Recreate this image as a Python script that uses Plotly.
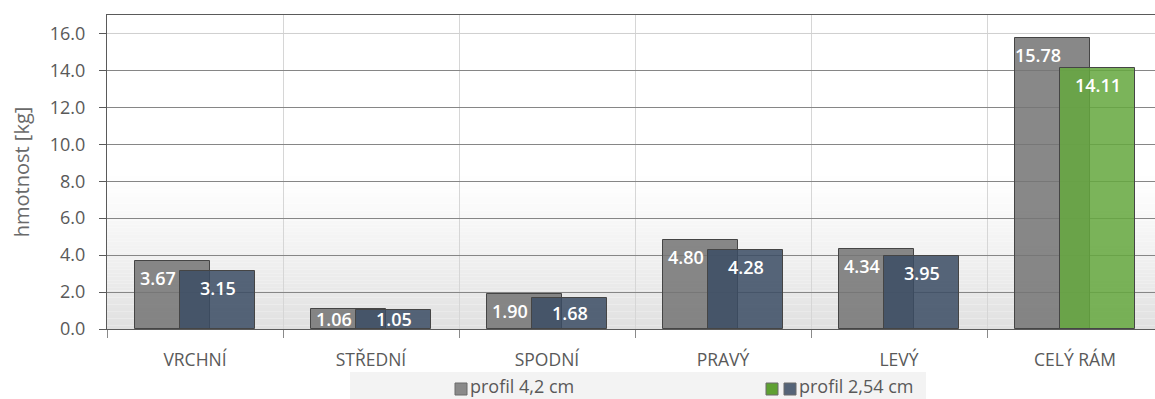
import plotly.graph_objects as go

# ---- data -------------------------------------------------------------
categories = ["VRCHNÍ", "STŘEDNÍ", "SPODNÍ", "PRAVÝ", "LEVÝ", "CELÝ RÁM"]
profil_42 = [3.67, 1.06, 1.90, 4.80, 4.34, 15.78]
profil_254 = [3.15, 1.05, 1.68, 4.28, 3.95, 14.11]
series_names = ["profil 4,2 cm", "profil 2,54 cm"]
y_ticks = [0, 2, 4, 6, 8, 10, 12, 14, 16]
y_title = "hmotnost [kg]"

# ---- geometry / style -------------------------------------------------
W, H = 1155, 399
ML, MR, MT, MB = 107, 0, 15, 70
PLOT_W = W - ML - MR
PLOT_H = H - MT - MB
Y_MAX = 17
CAT_PX = 176                      # pixel width of one category band
X_MIN = -0.5
X_MAX = X_MIN + PLOT_W / CAT_PX   # last band runs past the right edge
PX_PER_UNIT = PLOT_H / Y_MAX

BAR_W = 0.426
OFFSET = 0.128

FONT = "Open Sans"
TEXT_GREY = "#595959"
GRAY = "rgba(117,117,117,0.86)"
BLUE = "rgba(59,77,100,0.86)"
GREEN = "rgba(101,168,63,0.86)"
EDGE = "#454545"

idx = list(range(len(categories)))
x_a = [i - OFFSET for i in idx]
x_b = [i + OFFSET for i in idx]
colors_b = [BLUE] * (len(categories) - 1) + [GREEN]

fig = go.Figure()
fig.add_bar(x=x_a, y=profil_42, width=BAR_W, name=series_names[0],
            marker=dict(color=GRAY, line=dict(color=EDGE, width=1)),
            showlegend=False, hoverinfo="y")
fig.add_bar(x=x_b, y=profil_254, width=BAR_W, name=series_names[1],
            marker=dict(color=colors_b, line=dict(color=EDGE, width=1)),
            showlegend=False, hoverinfo="y")

# ---- value labels inside the bars ------------------------------------
LABEL_FONT = dict(family=FONT, size=18, color="white", weight=600)


def label_shift(v):
    return -min(17, v * PX_PER_UNIT / 2)


for i, v in zip(idx, profil_42):
    fig.add_annotation(x=i - BAR_W / 2, y=v, text=f"{v:.2f}", showarrow=False,
                       xanchor="center", yanchor="middle", yshift=label_shift(v),
                       font=LABEL_FONT)
for i, v in zip(idx, profil_254):
    fig.add_annotation(x=i + OFFSET, y=v, text=f"{v:.2f}", showarrow=False,
                       xanchor="center", yanchor="middle", yshift=label_shift(v),
                       font=LABEL_FONT)

# ---- background gradient in the lower part of the plot area ----------
GRAD_TOP = 8.5
N_BANDS = 45
for k in range(N_BANDS):
    y0 = GRAD_TOP * k / N_BANDS
    y1 = GRAD_TOP * (k + 1) / N_BANDS
    t = 1 - (k + 0.5) / N_BANDS
    c = int(round(255 - (255 - 224) * t ** 1.2))
    fig.add_shape(type="rect", xref="x", yref="y", x0=X_MIN, x1=X_MAX,
                  y0=y0, y1=y1, fillcolor=f"rgb({c},{c},{c})",
                  line_width=0, layer="below")

# topmost grid line is lighter
fig.add_shape(type="line", xref="x", yref="y", x0=X_MIN, x1=X_MAX,
              y0=y_ticks[-1], y1=y_ticks[-1], line=dict(color="#d2d2d2", width=1),
              layer="between")

# ---- legend (drawn as a strip below the axis) -------------------------
def px2x(p):
    return (p - ML) / PLOT_W


def px2y(p):
    return (H - MB - p) / PLOT_H


fig.add_shape(type="rect", xref="paper", yref="paper",
              x0=px2x(350), x1=px2x(926), y0=px2y(399), y1=px2y(372),
              fillcolor="#f3f3f3", line_width=0, layer="above")
legend_items = [
    (455, "#8a8a8a"),
    (766, "#5ea032"),
    (784, "#556478"),
]
for left, col in legend_items:
    fig.add_shape(type="rect", xref="paper", yref="paper",
                  x0=px2x(left), x1=px2x(left + 12), y0=px2y(395), y1=px2y(383),
                  fillcolor=col, line=dict(color="#6a6a6a", width=1), layer="above")
for left, name in [(469, series_names[0]), (798, series_names[1])]:
    fig.add_annotation(xref="paper", yref="paper", x=px2x(left), y=px2y(399),
                       text=name, showarrow=False, xanchor="left", yanchor="bottom",
                       borderpad=0,
                       font=dict(family=FONT, size=18, color=TEXT_GREY))

# ---- axes / layout ----------------------------------------------------
fig.update_layout(
    width=W, height=H,
    margin=dict(l=ML, r=MR, t=MT, b=MB, pad=0),
    paper_bgcolor="white", plot_bgcolor="white",
    barmode="overlay", bargap=0,
    font=dict(family=FONT, color=TEXT_GREY),
    showlegend=False,
)
fig.update_xaxes(
    range=[X_MIN, X_MAX], tickmode="array", tickvals=idx, ticktext=categories,
    ticks="", showgrid=False, zeroline=False,
    showline=True, linecolor="#5a5a5a", linewidth=1, mirror=True,
    tickfont=dict(family=FONT, size=17.5, color=TEXT_GREY),
    ticklabelstandoff=15,
    minor=dict(tickvals=[i - 0.5 for i in idx], ticks="outside", ticklen=8,
               tickcolor="#8a8a8a", tickwidth=1,
               showgrid=True, gridcolor="#d6d6d6", gridwidth=1),
)
fig.update_yaxes(
    range=[0, Y_MAX], tickmode="array", tickvals=y_ticks, tickformat=".1f",
    ticks="outside", ticklen=7, tickcolor="#5a5a5a", tickwidth=1,
    showline=True, linecolor="#5a5a5a", linewidth=1,
    showgrid=True, gridcolor="#868686", gridwidth=1, zeroline=False,
    tickfont=dict(family=FONT, size=18, color=TEXT_GREY),
    ticklabelstandoff=10,
    title=dict(text=y_title, font=dict(family=FONT, size=20, color="#6a6a6a"),
               standoff=14),
)

fig.write_html("out.html")
